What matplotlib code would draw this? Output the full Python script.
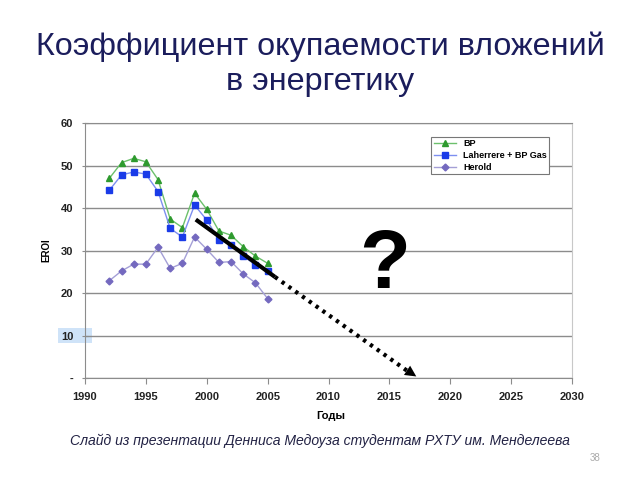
import matplotlib
matplotlib.use('Agg')
import matplotlib.pyplot as plt
from matplotlib.patches import Rectangle
from matplotlib.transforms import blended_transform_factory

plt.rcParams['font.family'] = ['Liberation Sans', 'DejaVu Sans']

years = list(range(1992, 2006))
bp = [47.0, 50.7, 51.7, 50.9, 46.7, 37.4, 35.4, 43.5, 39.7, 34.6, 33.6, 30.9, 28.7, 27.0]
laherrere = [44.2, 47.8, 48.5, 48.0, 43.9, 35.2, 33.2, 40.7, 37.2, 32.5, 31.3, 28.7, 26.6, 25.1]
herold = [22.9, 25.2, 26.8, 26.8, 30.8, 25.8, 27.0, 33.2, 30.3, 27.2, 27.4, 24.5, 22.4, 18.7]

trend_years = [1999.1, 2005.6]
trend_vals = [37.3, 23.8]
forecast_years = [2005.6, 2016.8]
forecast_vals = [23.8, 1.0]
arrow_tip = (2017.4, 0.0)

x_ticks = list(range(1990, 2031, 5))
y_ticks = [0, 10, 20, 30, 40, 50, 60]
y_labels = ['-', '10', '20', '30', '40', '50', '60']

fig = plt.figure(figsize=(6.4, 4.8), dpi=100)
ax = fig.add_axes([0.1328, 0.2125, 0.761, 0.531])

ax.plot(years, bp, color='#6cc06c', lw=1, marker='^', ms=5,
        mfc='#2e9a2e', mec='#2e9a2e', label='BP')
ax.plot(years, laherrere, color='#7d8ff0', lw=1, marker='s', ms=5,
        mfc='#1a3be8', mec='#1a3be8', label='Laherrere + BP Gas')
ax.plot(years, herold, color='#a49fd6', lw=1, marker='D', ms=3.5,
        mfc='#7469bf', mec='#7469bf', label='Herold')

# trend and forecast
ax.plot(trend_years, trend_vals, color='black', lw=3, solid_capstyle='butt')
ax.plot(forecast_years, forecast_vals, color='black', lw=3, ls=(0, (0.8, 1.2)))
ax.annotate('', xy=arrow_tip, xytext=(forecast_years[1] - 0.4, forecast_vals[1] + 0.9),
            arrowprops=dict(arrowstyle='-|>', color='black', lw=0, mutation_scale=20),
            annotation_clip=False)

ax.text(2014.6, 26.3, '?', fontsize=60, fontweight='bold', ha='center', va='center')

ax.set_xlim(1990, 2030)
ax.set_ylim(0, 60)
ax.set_xticks(x_ticks)
ax.set_yticks(y_ticks)
ax.set_yticklabels(y_labels)
for t in ax.get_xticklabels() + ax.get_yticklabels():
    t.set_fontweight('bold')
    t.set_fontsize(8)
    t.set_color('#222222')

# light blue highlight behind the "10" label
tr = blended_transform_factory(ax.transAxes, ax.transData)
ax.add_patch(Rectangle((-0.056, 8.2), 0.071, 3.6, transform=tr, facecolor='#cfe3f8',
                       edgecolor='none', clip_on=False, zorder=0))

ax.grid(axis='y', color='#8c8c8c', lw=1)
ax.set_axisbelow(True)
for s in ['left', 'bottom']:
    ax.spines[s].set_color('#8c8c8c')
ax.spines['right'].set_color('#c8c8c8')
ax.spines['top'].set_color('#8c8c8c')
ax.tick_params(axis='y', direction='inout', length=5, color='#8c8c8c', pad=6)
ax.tick_params(axis='x', direction='out', length=4, color='#8c8c8c', pad=6)

leg = ax.legend(loc='upper right', bbox_to_anchor=(0.963, 0.965), fontsize=6.5,
                fancybox=False, edgecolor='#777777', framealpha=1,
                handlelength=2.4, borderpad=0.3, labelspacing=0.3)
leg.get_frame().set_linewidth(0.8)
for t in leg.get_texts():
    t.set_fontweight('bold')

ax.set_ylabel('EROI', fontsize=7, fontweight='bold', labelpad=2)
ax.yaxis.set_label_coords(-0.068, 0.5)
ax.set_xlabel('Годы', fontsize=8, fontweight='bold')
ax.xaxis.set_label_coords(0.504, -0.13)

fig.text(0.5, 0.866, 'Коэффициент окупаемости вложений\nв энергетику', ha='center',
         va='center', fontsize=23.3, color='#1b1d5c', linespacing=1.2)
fig.text(0.5, 0.082, 'Слайд из презентации Денниса Медоуза студентам РХТУ им. Менделеева',
         ha='center', va='center', fontsize=10.1, style='italic', color='#222244')
fig.text(0.93, 0.045, '38', ha='center', va='center', fontsize=7, color='#aaaaaa')

fig.savefig('out.png', dpi=100)
